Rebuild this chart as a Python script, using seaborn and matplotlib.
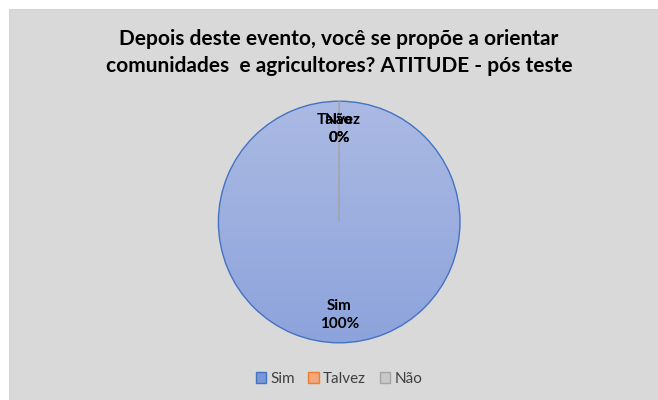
import numpy as np
import matplotlib
matplotlib.use("Agg")
import matplotlib.pyplot as plt
import seaborn as sns
from matplotlib.colors import LinearSegmentedColormap
from matplotlib.patches import Patch, Rectangle

categories = ["Sim", "Talvez", "Não"]
values = [100, 0, 0]
title = "Depois deste evento, você se propõe a orientar\ncomunidades  e agricultores? ATITUDE - pós teste"

sns.set_theme(style="white")
plt.rcParams['font.family'] = ['Lato', 'DejaVu Sans']

bg = "#D9D9D9"
fig = plt.figure(figsize=(6.58, 4.0), dpi=100, facecolor="white")
fig.patches.append(Rectangle((9 / 658, 0), 1 - 9 / 658, 1 - 9 / 400,
                             transform=fig.transFigure, facecolor=bg,
                             edgecolor="#D0D0D0", linewidth=0.6, zorder=-10))
ax = fig.add_axes([0.33, 0.14, 0.371, 0.61])
ax.set_facecolor("none")

edge_colors = ["#4472C4", "#A5A5A5", "#A5A5A5"]
legend_face = ["#7A97D8", "#F4A77B", "#C8C8C8"]
legend_edge = ["#4472C4", "#ED7D31", "#A5A5A5"]

wedges, _ = ax.pie(values, startangle=90, counterclock=False, radius=1,
                   wedgeprops=dict(linewidth=1.0))
cmap = LinearSegmentedColormap.from_list("g", ["#8DA3DB", "#ABBAE4"])
grad = np.linspace(0, 1, 256).reshape(-1, 1)
for i, w in enumerate(wedges):
    w.set_edgecolor(edge_colors[i])
    w.set_facecolor("none")
    if values[i] > 0:
        im = ax.imshow(grad, extent=(-1, 1, -1, 1), origin="lower", cmap=cmap,
                       aspect="auto", zorder=0.5)
        im.set_clip_path(w)
        w.set_zorder(1)
    else:
        w.set_zorder(2)

total = sum(values)
for i, w in enumerate(wedges):
    ang = np.deg2rad((w.theta1 + w.theta2) / 2)
    r = 0.77
    pct = values[i] / total * 100
    ax.text(r * np.cos(ang), r * np.sin(ang), f"{categories[i]}\n{pct:.0f}%",
            ha="center", va="center", fontsize=11, fontweight="bold",
            color="#000000", linespacing=1.45, zorder=3)

ax.set_xlim(-1.01, 1.01)
ax.set_ylim(-1.01, 1.01)
ax.set_aspect("equal")
ax.axis("off")

fig.suptitle(title, x=0.515, y=0.928, fontsize=15, fontweight="bold", color="#000000",
             linespacing=1.45)

handles = [Patch(facecolor=legend_face[i], edgecolor=legend_edge[i], label=categories[i])
           for i in range(len(categories))]
fig.legend(handles=handles, loc="center", bbox_to_anchor=(0.515, 0.053), ncol=3,
           frameon=False, fontsize=11, handlelength=0.7, handleheight=0.7,
           handletextpad=0.25, columnspacing=0.9, labelcolor="#404040")

fig.savefig("out.png", dpi=100, facecolor="white")
